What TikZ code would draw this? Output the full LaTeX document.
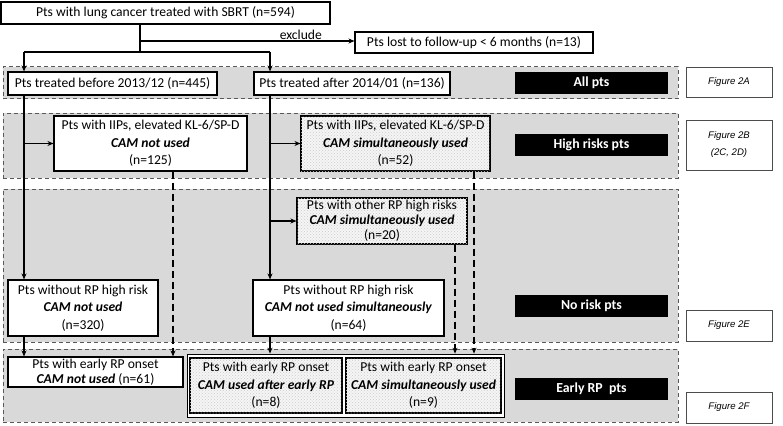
\documentclass[tikz,border=0pt]{standalone}
\usepackage{fontspec}
\setmainfont{Carlito}
\newfontfamily\figfont{Liberation Sans}
\usetikzlibrary{arrows.meta,patterns,calc}
\tikzset{
  box/.style={draw=black, line width=1.1pt, fill=white, align=center, inner sep=0pt,
    font=\fontsize{13.6}{17.5}\selectfont},
  hatch/.style={box, fill=gray!8, postaction={pattern=crosshatch dots, pattern color=gray!40}},
  band/.style={draw=gray!70!black, dashed, dash pattern=on 4pt off 3pt, line width=1pt, fill=gray!30, inner sep=0pt},
  tag/.style={fill=black, text=white, inner sep=0pt, minimum width=153pt, minimum height=22pt,
    font=\fontsize{13.8}{15}\selectfont\bfseries},
  figbox/.style={draw=gray!60!black, line width=0.8pt, fill=white, inner sep=0pt, minimum width=86pt,
    align=center, font=\fontsize{9.6}{17}\selectfont\figfont\itshape},
  conn/.style={line width=1.2pt, -{Stealth[length=6pt,width=5pt]}},
  dconn/.style={conn, dash pattern=on 7pt off 4pt},
  line/.style={line width=1.2pt}
}
\begin{document}
\begin{tikzpicture}[x=1pt,y=-1pt]
\useasboundingbox (0,0) rectangle (783,425);
% bands
\node[band, minimum width=675pt, minimum height=32pt] (b1) at (340.5,83) {};
\node[band, minimum width=675pt, minimum height=65pt] (b2) at (340.5,145.5) {};
\node[band, minimum width=675pt, minimum height=153pt] (b3) at (340.5,265.5) {};
\node[band, minimum width=675pt, minimum height=73pt] (b4) at (340.5,385.5) {};
% nodes
\node[box, minimum width=329pt, minimum height=22pt] (top) at (165.5,13) {Pts with lung cancer treated with SBRT (n=594)};
\node[box, minimum width=238pt, minimum height=21pt] (excl) at (474,42.5) {Pts lost to follow-up {\textless} 6 months (n=13)};
\node[box, minimum width=209pt, minimum height=23pt] (before) at (112.5,83.5) {Pts treated before 2013/12 (n=445)};
\node[box, minimum width=196pt, minimum height=23pt] (after) at (352,83.5) {Pts treated after 2014/01 (n=136)};
\node[box, minimum width=193pt, minimum height=55pt] (iipno) at (150.5,143.5) {Pts with IIPs, elevated KL-6/SP-D\\\textbf{\textit{CAM not used}}\\(n=125)};
\node[hatch, minimum width=189pt, minimum height=55pt] (iipcam) at (395.5,143.5) {Pts with IIPs, elevated KL-6/SP-D\\\textbf{\textit{CAM simultaneously used}}\\(n=52)};
\node[hatch, minimum width=170pt, minimum height=46pt, font=\fontsize{13.6}{15}\selectfont] (other) at (382,221) {Pts with other RP high risks\\\textbf{\textit{CAM simultaneously used}}\\(n=20)};
\node[box, minimum width=150pt, minimum height=56pt] (withoutL) at (83,308) {Pts without RP high risk\\\textbf{\textit{CAM not used}}\\(n=320)};
\node[box, minimum width=191pt, minimum height=56pt] (withoutR) at (348.5,308) {Pts without RP high risk\\\textbf{\textit{CAM not used simultaneously}}\\(n=64)};
\node[box, minimum width=175pt, minimum height=30pt, font=\fontsize{13.6}{15}\selectfont] (earlyL) at (95.5,372) {Pts with early RP onset\\\textbf{\textit{CAM not used}} (n=61)};
\node[draw=black, line width=0.8pt, fill=white, inner sep=0pt, minimum width=317pt, minimum height=63pt] (grp) at (345.5,385.5) {};
\node[hatch, minimum width=152pt, minimum height=55pt] (early1) at (266,385.5) {Pts with early RP onset\\\textbf{\textit{CAM used after early RP}}\\(n=8)};
\node[hatch, minimum width=155pt, minimum height=55pt] (early2) at (423.5,385.5) {Pts with early RP onset\\\textbf{\textit{CAM simultaneously used}}\\(n=9)};
% tags
\node[tag] (tA) at (591.5,83) {All pts};
\node[tag] (tB) at (591.5,145) {High risks pts};
\node[tag] (tE) at (591.5,306) {No risk pts};
\node[tag] (tF) at (591.5,388.5) {Early RP\ \ pts};
\node[figbox, minimum height=30pt] (fA) at (729,82) {Figure 2A};
\node[figbox, minimum height=50pt] (fB) at (729,145) {Figure 2B\\(2C, 2D)};
\node[figbox, minimum height=31pt] (fE) at (729,325.5) {Figure 2E};
\node[figbox, minimum height=31pt] (fF) at (729,407.5) {Figure 2F};
% coordinates
\coordinate (split) at (140,52);
\coordinate (exc) at (140,41);
\coordinate (lx) at (24,52);
\coordinate (rx) at (270,52);
\coordinate (d1) at (173,0);
\coordinate (d2) at (474,0);
\coordinate (d3) at (455,0);
% connectors
\draw[line] (top.south -| split) -- (split);
\draw[conn] (exc) -- node[above, pos=0.75, font=\fontsize{13.6}{15}\selectfont, inner sep=1pt] {exclude} (exc -| excl.west);
\draw[line] (lx) -- (rx);
\draw[conn] (lx) -- (before.north -| lx);
\draw[conn] (rx) -- (after.north -| rx);
\draw[conn] (before.south -| lx) -- (withoutL.north -| lx);
\draw[conn] (iipno.west -| lx) -- (iipno.west);
\draw[conn] (after.south -| rx) -- (withoutR.north -| rx);
\draw[conn] (iipcam.west -| rx) -- (iipcam.west);
\draw[conn] (other.west -| rx) -- (other.west);
\draw[conn] (withoutL.south -| lx) -- (earlyL.north -| lx);
\draw[conn] (withoutR.south -| rx) -- (grp.north -| rx);
\draw[dconn] (iipno.south -| d1) -- (earlyL.north -| d1);
\draw[dconn] (iipcam.south -| d2) -- (grp.north -| d2);
\draw[dconn] (other.south -| d3) -- (grp.north -| d3);
\end{tikzpicture}
\end{document}
